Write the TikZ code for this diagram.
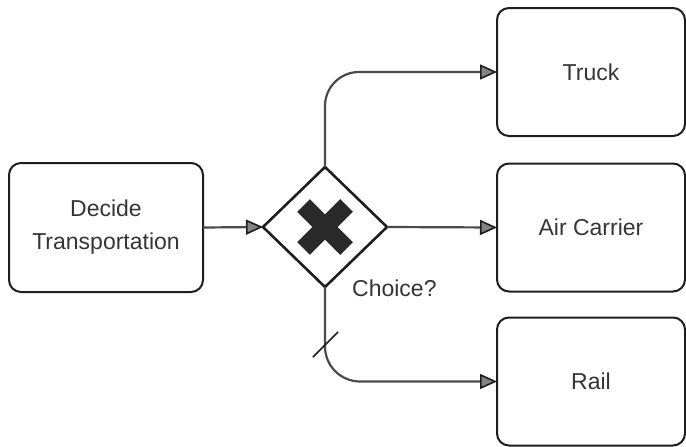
\documentclass[tikz,border=0pt]{standalone}
\usepackage{fontspec}
\setmainfont{Liberation Sans}
\usetikzlibrary{shapes.geometric,arrows.meta,calc}
\definecolor{ink}{HTML}{1E1E1E}
\tikzset{
  taskbox/.style={draw=ink, line width=2pt, rounded corners=12pt,
    minimum width=188pt, minimum height=128pt, inner sep=0pt, outer sep=0pt,
    align=center, font=\fontsize{23}{33}\selectfont, text=ink!90},
  gateway/.style={draw=ink, line width=2.6pt, shape=diamond, minimum width=124pt,
    minimum height=120pt, inner sep=0pt, outer sep=0pt},
  flow/.style={draw=ink!80, line width=2.2pt,
    -{Triangle[length=17pt,width=15pt,color=ink,fill=ink!55,line width=1.6pt]}},
  xmark/.style={line width=18pt, draw=ink!95, line cap=butt},
  lbl/.style={font=\fontsize{23}{28}\selectfont, text=ink!90, inner sep=0pt}
}
\begin{document}
\begin{tikzpicture}[x=1pt,y=-1pt]
  \useasboundingbox (0,0) rectangle (686,447);

  % activities
  \node[taskbox, minimum width=194pt, minimum height=129pt] (decide) at (106,227.5) {Decide\\Transportation};
  \node[taskbox] (truck) at (591,72) {Truck};
  \node[taskbox] (air) at (591,227.5) {Air Carrier};
  \node[taskbox] (rail) at (591,381.5) {Rail};

  % exclusive gateway with its X marker
  \node[gateway] (gw) at (325,227) {};
  \draw[xmark] ($(gw.center)+(-21.5,-21.5)$) -- ($(gw.center)+(21.5,21.5)$);
  \draw[xmark] ($(gw.center)+(-21.5,21.5)$) -- ($(gw.center)+(21.5,-21.5)$);
  \node[lbl, anchor=west] (choice) at (352,288) {Choice?};

  % sequence flows
  \draw[flow] (decide.east) -- (gw.west);
  \draw[flow, rounded corners=34pt] (gw.north) |- (truck.west);
  \draw[flow] (gw.east) -- (air.west);
  \draw[flow, rounded corners=35pt] (gw.south) |- (rail.west);

  % default-flow slash
  \coordinate (slashc) at ($(gw.south)+(0,58)$);
  \draw[ink, line width=1.6pt] ($(slashc)+(-12,12)$) -- ($(slashc)+(13,-13)$);
\end{tikzpicture}
\end{document}
